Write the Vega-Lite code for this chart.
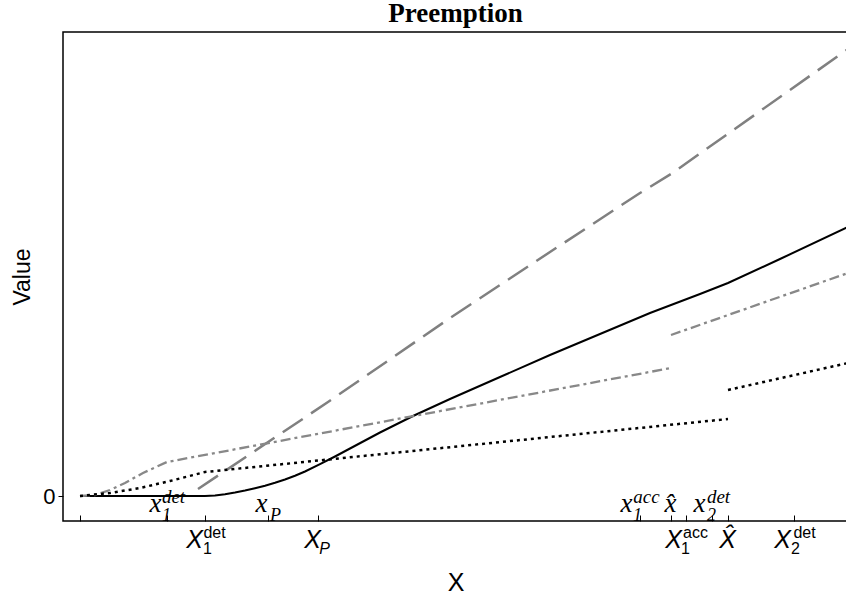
{
  "$schema": "https://vega.github.io/schema/vega-lite/v6.json",
  "width": 785,
  "height": 489,
  "autosize": "none",
  "padding": {"left": 63, "top": 32, "right": 0, "bottom": 81},
  "background": "white",
  "title": {"text": "Preemption", "font": "Liberation Serif", "fontSize": 27, "fontWeight": "bold", "anchor": "middle", "color": "black", "offset": 4},
  "data": {"values": [
    {"s": "solidA", "x": 0, "y": 0}, {"s": "solidA", "x": 1.25, "y": 0},
    {"s": "solidB", "x": 1.25, "y": 0}, {"s": "solidB", "x": 1.35, "y": 0.005}, {"s": "solidB", "x": 1.45, "y": 0.018}, {"s": "solidB", "x": 1.55, "y": 0.035}, {"s": "solidB", "x": 1.65, "y": 0.055}, {"s": "solidB", "x": 1.75, "y": 0.078}, {"s": "solidB", "x": 1.85, "y": 0.103}, {"s": "solidB", "x": 1.95, "y": 0.132}, {"s": "solidB", "x": 2.05, "y": 0.165}, {"s": "solidB", "x": 2.15, "y": 0.203}, {"s": "solidB", "x": 2.25, "y": 0.245}, {"s": "solidB", "x": 2.4, "y": 0.318}, {"s": "solidB", "x": 2.55, "y": 0.395}, {"s": "solidB", "x": 2.7, "y": 0.475}, {"s": "solidB", "x": 2.85, "y": 0.555}, {"s": "solidB", "x": 3.0, "y": 0.635}, {"s": "solidB", "x": 3.33, "y": 0.8}, {"s": "solidB", "x": 3.7, "y": 0.97}, {"s": "solidB", "x": 4.2, "y": 1.19}, {"s": "solidB", "x": 4.7, "y": 1.41}, {"s": "solidB", "x": 5.2, "y": 1.62}, {"s": "solidB", "x": 5.7, "y": 1.83}, {"s": "solidB", "x": 6.2, "y": 2.02}, {"s": "solidB", "x": 6.48, "y": 2.13}, {"s": "solidB", "x": 7.0, "y": 2.37}, {"s": "solidB", "x": 7.68, "y": 2.69},
    {"s": "dashed", "x": 1.18, "y": 0.07}, {"s": "dashed", "x": 2.48, "y": 0.94}, {"s": "dashed", "x": 3.7, "y": 1.78}, {"s": "dashed", "x": 4.7, "y": 2.44}, {"s": "dashed", "x": 5.6, "y": 3.03}, {"s": "dashed", "x": 5.91, "y": 3.22}, {"s": "dashed", "x": 7.68, "y": 4.47},
    {"s": "dashdot1", "x": 0, "y": 0}, {"s": "dashdot1", "x": 0.15, "y": 0.01}, {"s": "dashdot1", "x": 0.3, "y": 0.06}, {"s": "dashdot1", "x": 0.45, "y": 0.13}, {"s": "dashdot1", "x": 0.63, "y": 0.23}, {"s": "dashdot1", "x": 0.87, "y": 0.34}, {"s": "dashdot1", "x": 5.91, "y": 1.28},
    {"s": "dashdot2", "x": 5.91, "y": 1.61}, {"s": "dashdot2", "x": 7.68, "y": 2.23},
    {"s": "dotted1", "x": 0, "y": 0}, {"s": "dotted1", "x": 0.3, "y": 0.03}, {"s": "dotted1", "x": 0.6, "y": 0.08}, {"s": "dotted1", "x": 0.9, "y": 0.15}, {"s": "dotted1", "x": 1.25, "y": 0.24}, {"s": "dotted1", "x": 6.48, "y": 0.77},
    {"s": "dotted2", "x": 6.48, "y": 1.06}, {"s": "dotted2", "x": 7.68, "y": 1.33}
  ]},
  "encoding": {
    "y": {"field": "y", "type": "quantitative", "scale": {"domain": [-0.25, 4.64], "nice": false, "zero": false},
      "axis": {"values": [0], "title": "Value", "titleFont": "Liberation Sans", "titleFontSize": 23, "titleFontWeight": "normal", "titleColor": "black", "titlePadding": 8, "labelFont": "Liberation Sans", "labelFontSize": 22, "labelColor": "black", "labelPadding": 3, "tickSize": 5, "tickColor": "black", "domain": false, "grid": false}}
  },
  "layer": [
    {"transform": [{"filter": "datum.s === 'solidA'"}],
     "mark": {"type": "line", "color": "black", "strokeWidth": 2, "clip": true},
     "encoding": {"x": {"field": "x", "type": "quantitative", "scale": {"domain": [-0.17, 7.68], "nice": false, "zero": false},
       "axis": {"orient": "bottom", "values": [0, 0.87, 1.25, 1.88, 2.38, 5.6, 5.91, 6.06, 6.32, 6.48, 7.14], "labels": false, "domain": false, "ticks": true, "tickSize": -6, "tickColor": "black", "tickWidth": 1, "grid": false,
         "title": "X", "titleFont": "Liberation Sans", "titleFontSize": 25, "titleFontWeight": "normal", "titleColor": "black", "titlePadding": 49}}}},
    {"transform": [{"filter": "datum.s === 'solidB'"}],
     "mark": {"type": "line", "color": "black", "strokeWidth": 2, "clip": true},
     "encoding": {"x": {"field": "x", "type": "quantitative", "scale": {"domain": [-0.17, 7.68], "nice": false, "zero": false},
       "axis": {"orient": "bottom", "values": [1.14, 2.32, 5.93, 6.47, 7.02], "labelExpr": "datum.value > 6.4 && datum.value < 6.5 ? 'X\u0302' : 'X'", "ticks": false, "tickSize": 0, "domain": false, "grid": false, "title": null,
         "labelFont": "Liberation Sans", "labelFontStyle": "italic", "labelFontSize": 25, "labelColor": "black", "labelBaseline": "alphabetic", "labelAlign": "center", "labelPadding": 26, "labelOverlap": false, "labelFlush": false, "labelBound": false}}}},
    {"transform": [{"filter": "datum.s === 'dashed'"}],
     "mark": {"type": "line", "color": "#808080", "strokeWidth": 2.5, "strokeDash": [24, 10], "clip": true},
     "encoding": {"x": {"field": "x", "type": "quantitative", "scale": {"domain": [-0.17, 7.68], "nice": false, "zero": false},
       "axis": {"orient": "bottom", "values": [1.34, 6.15, 7.24], "labelExpr": "datum.value > 6 && datum.value < 6.5 ? 'acc' : 'det'", "ticks": false, "tickSize": 0, "domain": false, "grid": false, "title": null,
         "labelFont": "Liberation Sans", "labelFontSize": 16, "labelColor": "black", "labelBaseline": "alphabetic", "labelAlign": "center", "labelPadding": 16, "labelOverlap": false, "labelFlush": false, "labelBound": false}}}},
    {"transform": [{"filter": "datum.s === 'dashdot1'"}],
     "mark": {"type": "line", "color": "#888888", "strokeWidth": 2.3, "strokeDash": [10, 4, 3, 4], "clip": true},
     "encoding": {"x": {"field": "x", "type": "quantitative", "scale": {"domain": [-0.17, 7.68], "nice": false, "zero": false},
       "axis": {"orient": "bottom", "values": [1.27, 2.44, 6.05, 7.15], "labelExpr": "datum.value < 2 ? '1' : datum.value < 3 ? 'P' : datum.value < 6.5 ? '1' : '2'", "ticks": false, "tickSize": 0, "domain": false, "grid": false, "title": null,
         "labelFont": "Liberation Sans", "labelFontSize": 16, "labelFontStyle": {"condition": {"test": "datum.value > 2 && datum.value < 3", "value": "italic"}, "value": "normal"}, "labelColor": "black", "labelBaseline": "alphabetic", "labelAlign": "center", "labelPadding": 32, "labelOverlap": false, "labelFlush": false, "labelBound": false}}}},
    {"transform": [{"filter": "datum.s === 'dashdot2'"}],
     "mark": {"type": "line", "color": "#888888", "strokeWidth": 2.3, "strokeDash": [10, 4, 3, 4], "clip": true},
     "encoding": {"x": {"field": "x", "type": "quantitative", "scale": {"domain": [-0.17, 7.68], "nice": false, "zero": false},
       "axis": {"orient": "bottom", "values": [0.75, 1.81, 5.46, 5.9, 6.19], "labelExpr": "datum.value > 5.8 && datum.value < 6 ? 'x\u0302' : 'x'", "ticks": false, "tickSize": 0, "domain": false, "grid": false, "title": null, "zindex": 1,
         "labelFont": "Liberation Serif", "labelFontStyle": "italic", "labelFontSize": 27, "labelColor": "black", "labelBaseline": "alphabetic", "labelAlign": "center", "labelPadding": -10, "labelOverlap": false, "labelFlush": false, "labelBound": false}}}},
    {"transform": [{"filter": "datum.s === 'dotted1'"}],
     "mark": {"type": "line", "color": "black", "strokeWidth": 2.5, "strokeDash": [3, 4], "clip": true},
     "encoding": {"x": {"field": "x", "type": "quantitative", "scale": {"domain": [-0.17, 7.68], "nice": false, "zero": false},
       "axis": {"orient": "bottom", "values": [0.93, 5.66, 6.38], "labelExpr": "datum.value > 5 && datum.value < 6 ? 'acc' : 'det'", "ticks": false, "tickSize": 0, "domain": false, "grid": false, "title": null, "zindex": 1,
         "labelFont": "Liberation Serif", "labelFontStyle": "italic", "labelFontSize": 19, "labelColor": "black", "labelBaseline": "alphabetic", "labelAlign": "center", "labelPadding": -19, "labelOverlap": false, "labelFlush": false, "labelBound": false}}}},
    {"transform": [{"filter": "datum.s === 'dotted2'"}],
     "mark": {"type": "line", "color": "black", "strokeWidth": 2.5, "strokeDash": [3, 4], "clip": true},
     "encoding": {"x": {"field": "x", "type": "quantitative", "scale": {"domain": [-0.17, 7.68], "nice": false, "zero": false},
       "axis": {"orient": "bottom", "values": [0.86, 1.95, 5.57, 6.31], "labelExpr": "datum.value < 1 ? '1' : datum.value < 3 ? 'P' : datum.value < 6 ? '1' : '2'", "ticks": false, "tickSize": 0, "domain": false, "grid": false, "title": null, "zindex": 1,
         "labelFont": "Liberation Serif", "labelFontStyle": "italic", "labelFontSize": 18, "labelColor": "black", "labelBaseline": "alphabetic", "labelAlign": "center", "labelPadding": -1, "labelOverlap": false, "labelFlush": false, "labelBound": false}}}}
  ],
  "resolve": {"axis": {"x": "independent"}},
  "config": {"view": {"stroke": "black", "strokeWidth": 1.5}, "axis": {"grid": false}}
}
